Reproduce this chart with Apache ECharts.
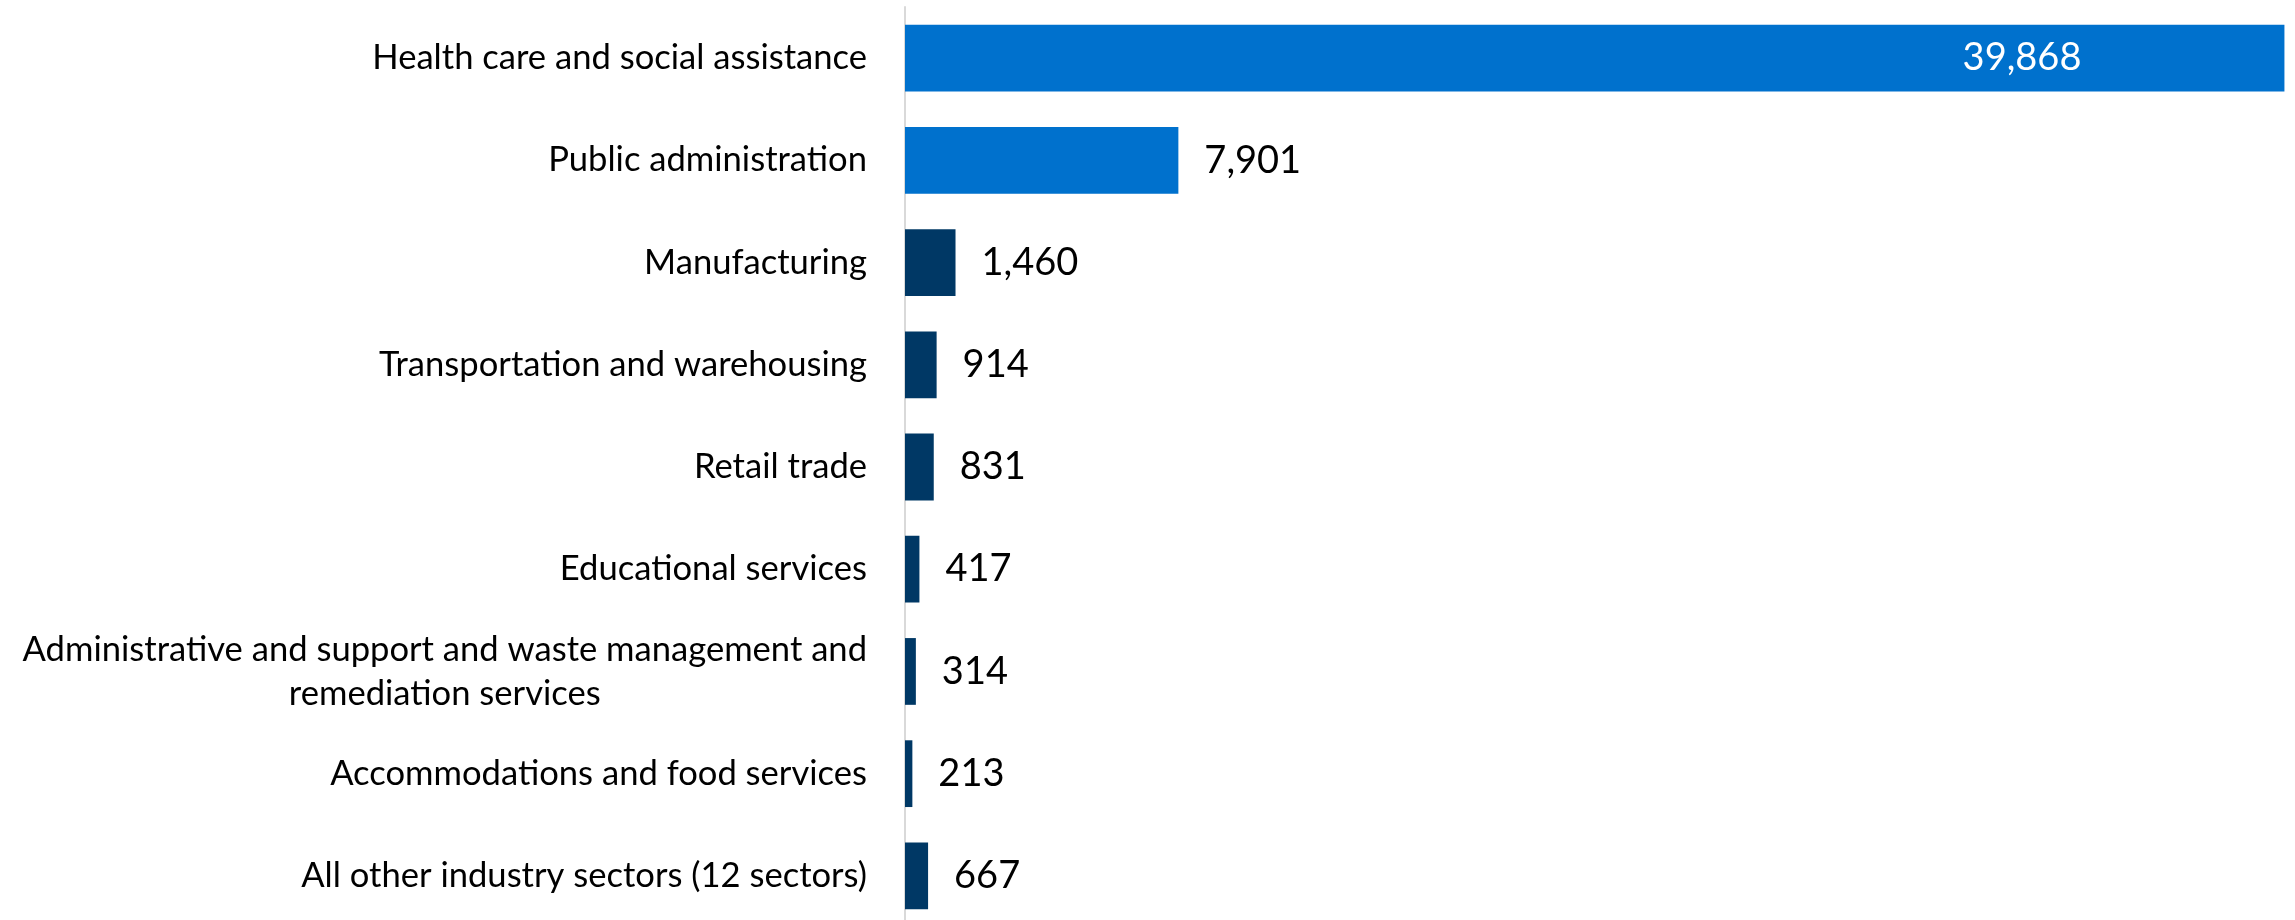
<!DOCTYPE html>
<html>
<head>
<meta charset="utf-8">
<style>
html,body{margin:0;padding:0;background:#fff;}
#chart{width:2295px;height:920px;}
</style>
<script src="https://cdn.jsdelivr.net/npm/echarts@6/dist/echarts.min.js"></script>
</head>
<body>
<div id="chart"></div>
<script>
const categories = [
  "Health care and social assistance",
  "Public administration",
  "Manufacturing",
  "Transportation and warehousing",
  "Retail trade",
  "Educational services",
  "Administrative and support and waste management and\nremediation services",
  "Accommodations and food services",
  "All other industry sectors (12 sectors)"
];
const values = [39868, 7901, 1460, 914, 831, 417, 314, 213, 667];

const FONT = "Lato, 'Noto Sans', sans-serif";
const catSize = 34.6;
const valSize = 38;

// measure widest line of the wrapped label so its lines can be centred
const ctx = document.createElement('canvas').getContext('2d');
ctx.font = catSize + "px Lato";
let wrapWidth = 0;
categories.forEach(c => {
  if (c.indexOf('\n') >= 0) {
    c.split('\n').forEach(l => { wrapWidth = Math.max(wrapWidth, ctx.measureText(l).width); });
  }
});

const LIGHT = '#0071CD';
const DARK = '#003865';

const seriesData = values.map((v, i) => {
  const item = { value: v, itemStyle: { color: i < 2 ? LIGHT : DARK } };
  if (i === 0) {
    item.label = { position: 'insideRight', distance: 203, color: '#fff' };
  }
  return item;
});

const chart = echarts.init(document.getElementById('chart'), null, { renderer: 'canvas' });
chart.setOption({
  animation: false,
  backgroundColor: '#fff',
  grid: { left: 905, right: 6, top: 7, height: 920, containLabel: false, outerBoundsMode: 'none' },
  xAxis: {
    type: 'value', min: 0, max: 40000,
    show: false, splitLine: { show: false }
  },
  yAxis: {
    type: 'category',
    inverse: true,
    data: categories,
    axisLine: { show: true, lineStyle: { color: '#d9d9d9', width: 2 } },
    axisTick: { show: false },
    axisLabel: {
      margin: 38,
      color: '#000',
      fontFamily: FONT,
      fontSize: catSize,
      lineHeight: 44,
      formatter: function (v) {
        if (v.indexOf('\n') >= 0) return '{w|' + v + '}';
        return v;
      },
      rich: {
        w: { width: wrapWidth, align: 'center', fontFamily: FONT, fontSize: catSize, lineHeight: 44, color: '#000' }
      }
    }
  },
  series: [{
    type: 'bar',
    data: seriesData,
    barCategoryGap: '34.7%',
    label: {
      show: true,
      position: 'right',
      distance: 26,
      color: '#000',
      fontFamily: FONT,
      fontSize: valSize,
      formatter: p => p.value.toLocaleString('en-US')
    }
  }]
});
</script>
</body>
</html>
